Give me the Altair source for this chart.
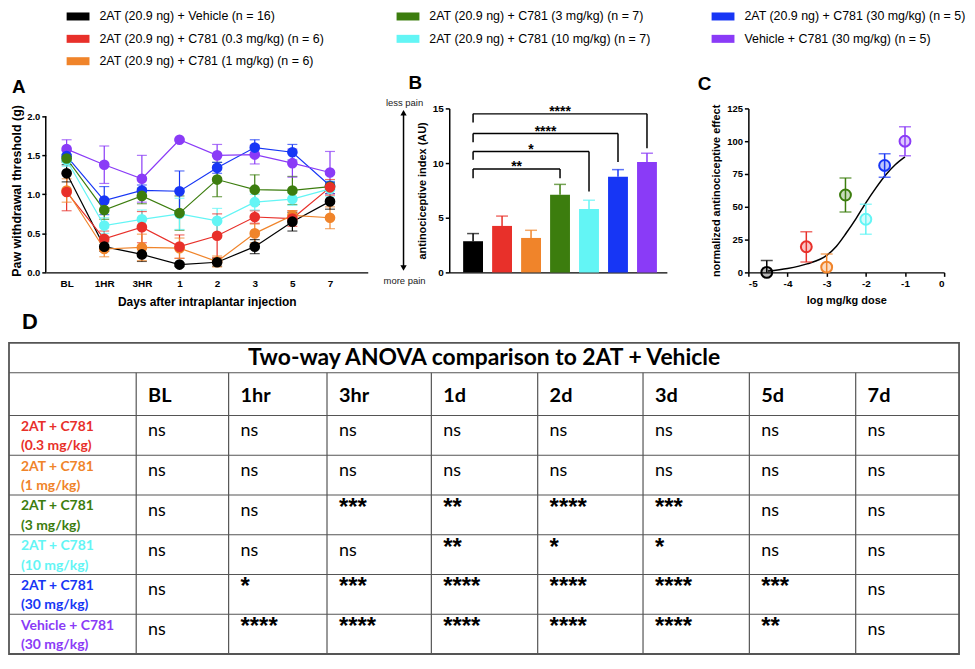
import altair as alt
import pandas as pd

# ======================= DATA =======================
GROUPS = [
    "2AT (20.9 ng) + Vehicle (n = 16)",
    "2AT (20.9 ng) + C781 (0.3 mg/kg) (n = 6)",
    "2AT (20.9 ng) + C781 (1 mg/kg) (n = 6)",
    "2AT (20.9 ng) + C781 (3 mg/kg) (n = 7)",
    "2AT (20.9 ng) + C781 (10 mg/kg) (n = 7)",
    "2AT (20.9 ng) + C781 (30 mg/kg) (n = 5)",
    "Vehicle + C781 (30 mg/kg) (n = 5)",
]
GROUP_COLORS = ["#000000", "#E8302A", "#F0842A", "#3C7D0E", "#63F5F5", "#1736F5", "#8A3BF7"]
LEGEND_ORDER = [0, 3, 5, 1, 4, 6, 2]   # row-major order of the 3-column legend

# Panel A: paw withdrawal threshold (g), mean and SEM per time point
TIMEPOINTS = ["BL", "1HR", "3HR", "1", "2", "3", "5", "7"]
A_MEAN = [
    [1.27, 0.33, 0.23, 0.10, 0.13, 0.33, 0.65, 0.91],
    [1.03, 0.43, 0.58, 0.33, 0.47, 0.71, 0.69, 1.09],
    [1.05, 0.30, 0.32, 0.31, 0.14, 0.50, 0.73, 0.70],
    [1.46, 0.80, 0.98, 0.76, 1.19, 1.06, 1.05, 1.10],
    [1.44, 0.60, 0.68, 0.75, 0.66, 0.90, 0.94, 1.07],
    [1.49, 0.92, 1.05, 1.04, 1.34, 1.60, 1.54, 1.11],
    [1.58, 1.38, 1.20, 1.70, 1.50, 1.51, 1.40, 1.28],
]
A_SEM = [
    [0.11, 0.06, 0.09, 0.02, 0.05, 0.09, 0.12, 0.10],
    [0.24, 0.10, 0.20, 0.15, 0.28, 0.08, 0.10, 0.10],
    [0.15, 0.10, 0.17, 0.13, 0.07, 0.12, 0.06, 0.14],
    [0.05, 0.12, 0.10, 0.22, 0.22, 0.19, 0.18, 0.05],
    [0.08, 0.10, 0.12, 0.20, 0.16, 0.10, 0.08, 0.10],
    [0.07, 0.18, 0.07, 0.26, 0.07, 0.10, 0.10, 0.05],
    [0.12, 0.24, 0.30, 0.01, 0.14, 0.12, 0.18, 0.27],
]

# Panel B: antinociceptive index (AU)
B_MEAN = [2.85, 4.25, 3.15, 7.10, 5.80, 8.75, 10.10]
B_SEM = [0.70, 0.90, 0.70, 0.95, 0.80, 0.65, 0.80]
B_ARROW_TEXT = ["less pain", "more pain"]
BRACKET_TARGET = [3, 4, 5, 6]
BRACKET_LABEL = ["**", "*", "****", "****"]
BRACKET_Y = [9.45, 11.05, 12.70, 14.50]
BRACKET_LEFT_END = [8.60, 10.30, 11.90, 13.70]
BRACKET_RIGHT_END = [8.60, 7.40, 10.10, 11.35]

# Panel C: dose response
C_LOGDOSE = [-4.53, -3.52, -3.00, -2.52, -2.00, -1.52, -1.00]
C_MEAN = [0.0, 19.5, 4.0, 59.0, 40.5, 81.5, 100.0]
C_SEM = [9.0, 11.5, 10.0, 13.0, 11.5, 9.0, 11.0]
C_FIT_X = [-4.5, -4.0, -3.5, -3.0, -2.75, -2.5, -2.25, -2.0, -1.75, -1.5, -1.25, -1.0]
C_FIT_Y = [1, 3, 6.5, 13, 20, 30, 41, 53, 64, 74, 82, 88]

# Panel D: table
TABLE_TITLE = "Two-way ANOVA comparison to 2AT + Vehicle"
TABLE_COLUMNS = ["BL", "1hr", "3hr", "1d", "2d", "3d", "5d", "7d"]
TABLE_ROWS = [
    "2AT + C781\n(0.3 mg/kg)",
    "2AT + C781\n(1 mg/kg)",
    "2AT + C781\n(3 mg/kg)",
    "2AT + C781\n(10 mg/kg)",
    "2AT + C781\n(30 mg/kg)",
    "Vehicle + C781\n(30 mg/kg)",
]
TABLE_ROW_GROUP = [1, 2, 3, 4, 5, 6]
TABLE_SIG = [
    ["ns", "ns", "ns", "ns", "ns", "ns", "ns", "ns"],
    ["ns", "ns", "ns", "ns", "ns", "ns", "ns", "ns"],
    ["ns", "ns", "***", "**", "****", "***", "ns", "ns"],
    ["ns", "ns", "ns", "**", "*", "*", "ns", "ns"],
    ["ns", "*", "***", "****", "****", "****", "***", "ns"],
    ["ns", "****", "****", "****", "****", "****", "**", "ns"],
]

# ======================= STYLE / LAYOUT =======================
GP_FONT = "Liberation Sans"
TAB_FONT = "Lato"
A_W, A_H, A_AXIS_PX = 324, 165, 157
B_W, C_W = 219, 197
PANEL_GAP = 82
TAB_COL_W = [128, 93, 99, 105, 107, 106, 107, 107, 104]
TAB_TITLE_H, TAB_HEAD_H, TAB_ROW_H = 30, 43, 40
TAB_X0 = 37
LINE_COLOR = "#555555"
LEG_W, LEG_H = 900, 59.5
LEG_COL_X = [21, 353, 670]
LEG_ROW_Y = [6.5, 29, 51.5]
SWATCH_PATH = "M-1,-0.35L1,-0.35L1,0.35L-1,0.35Z"

color_scale = alt.Scale(domain=GROUPS, range=GROUP_COLORS)
colX = alt.Color("group:N", scale=color_scale, legend=None)


def gp_axis(**kw):
    d = dict(domainColor="black", domainWidth=1.5, tickColor="black", tickWidth=1.5, tickSize=4,
             labelFont=GP_FONT, labelFontWeight="bold", labelColor="black", labelFontSize=10,
             labelPadding=2, titleFont=GP_FONT, titleFontWeight="bold", titleColor="black",
             titleFontSize=11, grid=False)
    d.update(kw)
    return alt.Axis(**d)


def letter(t, dx, offset):
    return alt.TitleParams(t, anchor="start", frame="group", dx=dx, offset=offset, font=GP_FONT,
                           fontSize=19, fontWeight="bold", color="black")


# ---------------- Legend row ----------------
leg_rows = []
for k, gi in enumerate(LEGEND_ORDER):
    leg_rows.append({"group": GROUPS[gi], "sx": LEG_COL_X[k % 3] + 11.5,
                     "tx": LEG_COL_X[k % 3] + 33, "y": LEG_ROW_Y[k // 3]})
leg_df = pd.DataFrame(leg_rows)
LX = alt.Scale(domain=[0, LEG_W], nice=False, zero=False)
LY = alt.Scale(domain=[0, LEG_H], reverse=True, nice=False, zero=False)
leg_sw = alt.Chart(leg_df).mark_point(shape=SWATCH_PATH, size=529, filled=True, opacity=1,
                                      strokeWidth=0).encode(
    x=alt.X("sx:Q", scale=LX, axis=None), y=alt.Y("y:Q", scale=LY, axis=None), color=colX)
leg_tx = alt.Chart(leg_df).mark_text(font=GP_FONT, fontSize=12.5, color="black", align="left",
                                     baseline="middle").encode(
    x=alt.X("tx:Q", scale=LX, axis=None), y=alt.Y("y:Q", scale=LY, axis=None), text="group:N")
legend_row = alt.layer(leg_sw, leg_tx).properties(width=LEG_W, height=LEG_H)

# ---------------- Panel A ----------------
a_rows = []
for gi, g in enumerate(GROUPS):
    for ti, tp in enumerate(TIMEPOINTS):
        m, s = A_MEAN[gi][ti], A_SEM[gi][ti]
        a_rows.append({"group": g, "tp": tp, "mean": m, "lo": m - s, "hi": m + s, "z": -gi})
a_df = pd.DataFrame(a_rows)

A_XAXIS = gp_axis(title="Days after intraplantar injection", labelAngle=0, ticks=False,
                  labelPadding=6, titleFontSize=12, titlePadding=8)
A_YAXIS = gp_axis(values=[0, 0.5, 1.0, 1.5, 2.0], format=".1f", domain=False,
                  title="Paw withdrawal threshold (g)", titleFontSize=12.5, titlePadding=3,
                  labelFontSize=9.5)
A_XSCALE = alt.Scale(type="point", domain=TIMEPOINTS, padding=0.779, align=0.356)
A_YSCALE = alt.Scale(domain=[0, 2.0 * A_H / A_AXIS_PX], nice=False, zero=False)


def ax():
    return alt.X("tp:N", scale=A_XSCALE, axis=A_XAXIS)


def ay(f):
    return alt.Y(f"{f}:Q", scale=A_YSCALE, axis=A_YAXIS)


baseA = alt.Chart(a_df)
a_axisline = alt.Chart(pd.DataFrame({"y0": [0.0], "y1": [2.0]})).mark_rule(
    color="black", strokeWidth=1.5).encode(x=alt.value(0), y=ay("y0"), y2="y1:Q")
a_err = baseA.mark_rule(strokeWidth=1.2).encode(x=ax(), y=ay("lo"), y2="hi:Q", color=colX)
a_caphi = baseA.mark_tick(orient="horizontal", size=10, thickness=1.2).encode(x=ax(), y=ay("hi"), color=colX)
a_caplo = baseA.mark_tick(orient="horizontal", size=10, thickness=1.2).encode(x=ax(), y=ay("lo"), color=colX)
a_line = baseA.mark_line(strokeWidth=1.2).encode(x=ax(), y=ay("mean"), color=colX)
a_pts = baseA.mark_circle(size=115, opacity=1).encode(x=ax(), y=ay("mean"), color=colX,
                                                        order=alt.Order("z:Q"))
panelA = alt.layer(a_axisline, a_err, a_caphi, a_caplo, a_line, a_pts).properties(
    width=A_W, height=A_H, title=letter("A", -34, 8))

# ---------------- Panel B ----------------
b_df = pd.DataFrame({"group": GROUPS, "pos": list(range(len(GROUPS))), "mean": B_MEAN,
                     "hi": [m + s for m, s in zip(B_MEAN, B_SEM)]})
B_XSCALE = alt.Scale(domain=[-0.651, 6.515], nice=False, zero=False)
B_XAXIS = gp_axis(title=None, labels=False, ticks=False)
B_YSCALE = alt.Scale(domain=[0, 15], nice=False, zero=False)
B_YAXIS = gp_axis(values=[0, 5, 10, 15], title="antinociceptive index (AU)", titlePadding=5)


def bx(f="pos"):
    return alt.X(f"{f}:Q", scale=B_XSCALE, axis=B_XAXIS)


def by(f):
    return alt.Y(f"{f}:Q", scale=B_YSCALE, axis=B_YAXIS, stack=None)


baseB = alt.Chart(b_df)
b_bars = baseB.mark_bar(size=20, orient="vertical").encode(x=bx(), y=by("mean"), color=colX)
b_err = baseB.mark_rule(strokeWidth=1.5).encode(x=bx(), y=by("mean"), y2="hi:Q", color=colX)
b_cap = baseB.mark_tick(orient="horizontal", size=12, thickness=1.5).encode(x=bx(), y=by("hi"), color=colX)

br_h = pd.DataFrame({"x0": [0] * len(BRACKET_TARGET), "x1": BRACKET_TARGET, "y": BRACKET_Y,
                     "xm": [t / 2 for t in BRACKET_TARGET], "label": BRACKET_LABEL})
br_legs = pd.DataFrame({"x": [0] * len(BRACKET_TARGET) + BRACKET_TARGET,
                        "y": BRACKET_Y + BRACKET_Y,
                        "y2": BRACKET_LEFT_END + BRACKET_RIGHT_END})
b_brh = alt.Chart(br_h).mark_rule(color="black", strokeWidth=1.5).encode(x=bx("x0"), x2="x1:Q", y=by("y"))
b_brl = alt.Chart(br_legs).mark_rule(color="black", strokeWidth=1.5).encode(x=bx("x"), y=by("y"), y2="y2:Q")
b_brt = alt.Chart(br_h).mark_text(font=GP_FONT, fontSize=14, fontWeight="bold", baseline="alphabetic",
                                  dy=2, color="black").encode(x=bx("xm"), y=by("y"), text="label:N")
ann = pd.DataFrame({"t": B_ARROW_TEXT, "y": [15.45, -0.75]})
b_ann = alt.Chart(ann).mark_text(font=GP_FONT, fontSize=9.5, color="#222222").encode(
    x=alt.value(-45), y=by("y"), text="t:N")
arrow = pd.DataFrame({"y": [14.6], "y2": [0.4]})
b_arrow = alt.Chart(arrow).mark_rule(color="black", strokeWidth=1.5).encode(
    x=alt.value(-46), y=by("y"), y2="y2:Q")
heads = pd.DataFrame({"y": [14.6, 0.4], "shape": ["triangle-up", "triangle-down"]})
b_heads = alt.Chart(heads).mark_point(filled=True, size=40, color="black", opacity=1).encode(
    x=alt.value(-46), y=by("y"), shape=alt.Shape("shape:N", scale=None))
panelB = alt.layer(b_bars, b_err, b_cap, b_brh, b_brl, b_brt, b_ann, b_arrow, b_heads).properties(
    width=B_W, height=A_H, title=letter("B", -41, 6))

# ---------------- Panel C ----------------
c_df = pd.DataFrame({"group": GROUPS, "x": C_LOGDOSE, "mean": C_MEAN,
                     "lo": [m - s for m, s in zip(C_MEAN, C_SEM)],
                     "hi": [m + s for m, s in zip(C_MEAN, C_SEM)]})
fit_df = pd.DataFrame({"x": C_FIT_X, "y": C_FIT_Y})
C_XSCALE = alt.Scale(domain=[-5, 0], nice=False, zero=False)
C_XAXIS = gp_axis(values=[-5, -4, -3, -2, -1, 0], labelExpr="datum.value + ''",
                  title="log mg/kg dose", titlePadding=6)
C_YSCALE = alt.Scale(domain=[0, 125], nice=False, zero=False)
C_YAXIS = gp_axis(values=[0, 25, 50, 75, 100, 125], title="normalized antinociceptive effect",
                  titlePadding=5, labelFontSize=9.5)


def cx(f="x"):
    return alt.X(f"{f}:Q", scale=C_XSCALE, axis=C_XAXIS)


def cy(f):
    return alt.Y(f"{f}:Q", scale=C_YSCALE, axis=C_YAXIS)


baseC = alt.Chart(c_df)
c_fit = alt.Chart(fit_df).mark_line(color="black", strokeWidth=1.5, interpolate="monotone").encode(
    x=cx(), y=cy("y"))
c_err = baseC.mark_rule(strokeWidth=1.5, clip=True).encode(x=cx(), y=cy("lo"), y2="hi:Q", color=colX)
c_caphi = baseC.mark_tick(orient="horizontal", size=12, thickness=1.5, clip=True).encode(
    x=cx(), y=cy("hi"), color=colX)
c_caplo = baseC.mark_tick(orient="horizontal", size=12, thickness=1.5, clip=True).encode(
    x=cx(), y=cy("lo"), color=colX)
c_fillpts = baseC.mark_circle(size=120, opacity=0.28).encode(x=cx(), y=cy("mean"), color=colX)
c_pts = baseC.mark_point(shape="circle", filled=False, size=120, strokeWidth=2, opacity=1).encode(
    x=cx(), y=cy("mean"), color=colX)
panelC = alt.layer(c_fit, c_err, c_caphi, c_caplo, c_fillpts, c_pts).properties(
    width=C_W, height=A_H, title=letter("C", -51, 10))

# ---------------- Panel D (table) ----------------
edges = [0]
for w in TAB_COL_W:
    edges.append(edges[-1] + w)
TAB_W = edges[-1]
TAB_H = TAB_TITLE_H + TAB_HEAD_H + TAB_ROW_H * len(TABLE_ROWS)
row_tops = [TAB_TITLE_H + TAB_HEAD_H + i * TAB_ROW_H for i in range(len(TABLE_ROWS))]

D_XSCALE = alt.Scale(domain=[TAB_X0, TAB_W], nice=False, zero=False)
D_YSCALE = alt.Scale(domain=[0, TAB_H], reverse=True, nice=False, zero=False)


def dxe(f):
    return alt.X(f"{f}:Q", scale=D_XSCALE, axis=None)


def dye(f):
    return alt.Y(f"{f}:Q", scale=D_YSCALE, axis=None)


border = pd.DataFrame({"x": [0], "x2": [TAB_W], "y": [0], "y2": [TAB_H]})
d_border = alt.Chart(border).mark_rect(fillOpacity=0, stroke=LINE_COLOR, strokeWidth=1.8).encode(
    x=dxe("x"), x2="x2:Q", y=dye("y"), y2="y2:Q")

hl_y = [TAB_TITLE_H, TAB_TITLE_H + TAB_HEAD_H] + row_tops[1:]
lines = pd.DataFrame({
    "x": [0] * len(hl_y) + edges[1:-1],
    "x2": [TAB_W] * len(hl_y) + edges[1:-1],
    "y": hl_y + [TAB_TITLE_H] * (len(edges) - 2),
    "y2": hl_y + [TAB_H] * (len(edges) - 2),
})
d_lines = alt.Chart(lines).mark_rule(color=LINE_COLOR, strokeWidth=1.2).encode(
    x=dxe("x"), x2="x2:Q", y=dye("y"), y2="y2:Q")

title_df = pd.DataFrame({"x": [TAB_W / 2], "y": [TAB_TITLE_H / 2 + 0.5], "t": [TABLE_TITLE]})
d_title = alt.Chart(title_df).mark_text(font=TAB_FONT, fontSize=23, fontWeight="bold", color="black",
                                        align="center", baseline="middle").encode(
    x=dxe("x"), y=dye("y"), text="t:N")

head_df = pd.DataFrame({"x": [e + 12 for e in edges[1:-1]],
                        "y": [TAB_TITLE_H + 29] * len(TABLE_COLUMNS), "t": TABLE_COLUMNS})
d_head = alt.Chart(head_df).mark_text(font=TAB_FONT, fontSize=20, fontWeight="bold", color="black",
                                      align="left", baseline="alphabetic").encode(
    x=dxe("x"), y=dye("y"), text="t:N")

rl_df = pd.DataFrame({"x": [12] * len(TABLE_ROWS), "y": [t + 11.5 for t in row_tops], "t": TABLE_ROWS,
                      "c": [GROUP_COLORS[i] for i in TABLE_ROW_GROUP]})
d_rl = alt.Chart(rl_df).mark_text(font=TAB_FONT, fontSize=14, fontWeight="bold", align="left",
                                  baseline="middle", lineBreak="\n", lineHeight=19.5).encode(
    x=dxe("x"), y=dye("y"), text="t:N", color=alt.Color("c:N", scale=None))

cells = []
for ri, row in enumerate(TABLE_SIG):
    for ci, v in enumerate(row):
        cells.append({"x": edges[ci + 1] + 12, "y": row_tops[ri] + 21, "t": v,
                      "star": v.startswith("*")})
cells_df = pd.DataFrame(cells)
d_ns = alt.Chart(cells_df).transform_filter("!datum.star").mark_text(
    font=TAB_FONT, fontSize=18, color="black", align="left", baseline="alphabetic").encode(
    x=dxe("x"), y=dye("y"), text="t:N")
d_star = alt.Chart(cells_df).transform_filter("datum.star").mark_text(
    font=GP_FONT, fontSize=24, fontWeight="bold", color="black", align="left",
    baseline="alphabetic", dy=-1).encode(x=dxe("x"), y=dye("y"), text="t:N")

panelD = alt.layer(d_border, d_lines, d_title, d_head, d_rl, d_ns, d_star).properties(
    width=TAB_W - TAB_X0, height=TAB_H,
    title=alt.TitleParams("D", anchor="start", frame="group", dx=-24, offset=8, font=GP_FONT,
                          fontSize=22, fontWeight="bold", color="black"))

# ---------------- assemble ----------------
top = alt.hconcat(panelA, panelB, panelC, spacing=PANEL_GAP, bounds="flush")
chart = alt.vconcat(legend_row, top, panelD, spacing=4).properties(
    padding={"left": 0, "top": 0, "right": 1, "bottom": 1}
).configure_view(stroke=None)

chart.save("out.html", embed_options={"renderer": "svg", "actions": False})
